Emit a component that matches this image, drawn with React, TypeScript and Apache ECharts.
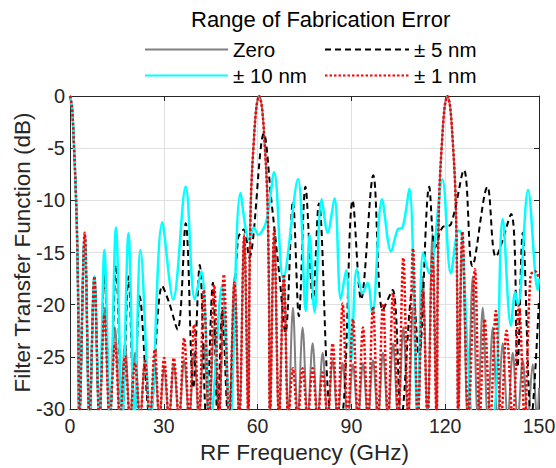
import React, { useEffect, useRef } from "react";
import * as echarts from "echarts";

const FONT = "Liberation Sans, Arial, Helvetica, sans-serif";

const xTicks = [0, 30, 60, 90, 120, 150];
const yTicks = [-30, -25, -20, -15, -10, -5, 0];

const legendTitle = "Range of Fabrication Error";
const seriesNames = ["Zero", "± 5 nm", "± 10 nm", "± 1 nm"];

// [frequency GHz, dB]: lobe peaks, dips and nulls (nulls drop below the -30 dB floor)
const zeroPts: [number, number][] = [
  [0, 0], [0.65, -1.1], [1.3, -5], [1.8, -8.7], [2.2, -12.6], [2.6, -19.3], [3.0, -31],
  [4.7, -13.2], [6.25, -31], [7.8, -17.3], [9.4, -31], [11.0, -20.3], [12.7, -31], [14.4, -22.2], [16.0, -31],
  [17.6, -23.7], [19.2, -31], [20.8, -24.6], [22.4, -31], [24.0, -25.3], [25.55, -31], [27.1, -25.7], [28.6, -31],
  [30.1, -25.9], [31.65, -31], [33.2, -25.7], [34.85, -31], [36.5, -25.3], [38.1, -31], [39.7, -24.6], [41.25, -31],
  [42.8, -23.7], [44.45, -31], [46.1, -22.2], [47.65, -31], [49.2, -20.3], [50.9, -31], [52.6, -17.3], [54.15, -31],
  [55.7, -13.2], [57.05, -31],
  [57.35, -19.3], [57.65, -12.6], [58.0, -8.7], [58.65, -5], [59.6, -1.1], [60.5, 0], [61.4, -1.1], [62.35, -5],
  [63.0, -8.7], [63.35, -12.6], [63.65, -19.3], [63.95, -31],
  [65.3, -13.2], [66.85, -31], [68.4, -17.3], [69.85, -31], [71.3, -20.3], [72.85, -31], [74.4, -22.2], [76.0, -31],
  [77.6, -23.7], [79.2, -31], [80.8, -24.6], [82.4, -31], [84.0, -25.3], [85.6, -31], [87.2, -25.6], [88.85, -31],
  [90.5, -25.7], [92.1, -31], [93.7, -25.6], [95.3, -31], [96.9, -25.3], [98.5, -31], [100.1, -24.6], [101.7, -31],
  [103.3, -23.7], [104.95, -31], [106.6, -22.2], [108.15, -31], [109.7, -20.3], [111.25, -31], [112.8, -17.3], [114.35, -31],
  [115.9, -13.2], [117.25, -31],
  [117.55, -19.3], [117.85, -12.6], [118.2, -8.7], [118.85, -5], [119.8, -1.1], [120.7, 0], [121.6, -1.1], [122.55, -5],
  [123.2, -8.7], [123.55, -12.6], [123.85, -19.3], [124.15, -31],
  [125.5, -13.2], [127.15, -31], [128.8, -17.3], [130.4, -31], [132.0, -20.3], [133.6, -31], [135.2, -22.2], [136.8, -31],
  [138.4, -23.7], [140.0, -31], [141.6, -24.6], [143.2, -31], [144.8, -25.3], [146.4, -31], [148.0, -25.7], [149.4, -31],
  [150, -28],
];

const fivePts: [number, number][] = [
  [0, 0], [0.65, -1.1], [1.3, -5], [1.8, -8.7], [2.2, -12.6], [2.6, -19.3], [3.0, -31],
  [4.7, -13.3], [6.25, -31], [7.8, -17.3], [9.4, -31], [11.0, -17], [12.8, -31], [14.7, -16.2], [16.7, -31],
  [18.7, -17.3], [20.6, -31], [22.3, -19.2], [25.6, -31], [29.5, -18.2], [31.7, -19.8], [34.4, -22.4], [37.0, -12.2],
  [39.4, -28], [41.5, -16.2], [43.6, -31], [45.7, -17.9], [47.2, -31], [48.7, -20.5], [50.6, -31], [53.7, -13.7],
  [55.6, -12.8], [57.3, -15.5], [62.0, -3.6], [64.4, -10], [67.0, -17.3], [68.9, -22.7], [71.3, -10.1], [73.2, -21.1],
  [75.3, -8.7], [77.7, -19.5], [79.6, -10.3], [83.8, -31], [86.6, -31], [90.4, -10], [93.1, -19.5], [97.0, -7.6],
  [100.0, -20.5], [103.2, -18.6], [105.9, -31], [109.6, -18.5], [111.6, -25], [114.9, -8.7], [116.8, -14.5],
  [119.1, -12.6], [121.8, -12.3], [126.0, -7.1], [128.7, -16.3], [133.5, -8.7], [136.2, -15.4],
  [141.1, -11.3], [143.1, -26], [144.8, -13.1], [147.5, -31], [150, -19.5],
];

const tenPts: [number, number][] = [
  [0, 0], [0.65, -1.1], [1.3, -5], [1.8, -8.7], [2.2, -12.6], [2.6, -19.3], [3.0, -31],
  [4.7, -13.3], [6.25, -31], [7.8, -17.3], [9.4, -31], [11.0, -14.75], [12.8, -31], [14.7, -12.6], [16.7, -31],
  [18.7, -13.15], [20.6, -31], [22.55, -14.75], [25.8, -31], [29.5, -12.1], [33.0, -19.5], [37.0, -8.7], [39.9, -19.5],
  [42.0, -16.8], [45.0, -31], [48.6, -18.2], [51.2, -31], [54.5, -9.3], [57.3, -13.8], [58.8, -12.6], [60.2, -13.3],
  [62.8, -12.0], [65.3, -7.3], [68.2, -17.5], [72.9, -7.95], [75.4, -20.6], [76.6, -13.3], [78.2, -20.7], [80.5, -9.9],
  [82.4, -13.1], [84.6, -9.8], [86.6, -19.5], [88.3, -16.7], [89.9, -25.4], [91.7, -16.6], [93.6, -18.9], [95.2, -17.9],
  [96.7, -21], [99.8, -9.9], [102.7, -14.9], [104.8, -12.8], [106.4, -12.6], [108.5, -8.9], [111.2, -31], [112.9, -15],
  [114.9, -17], [119.1, -8], [121.8, -17], [124.3, -12.9], [125.3, -13.2], [127.5, -26], [129.5, -31], [134.8, -31],
  [138.4, -11.8], [141.0, -22], [142.4, -18.8], [143.3, -20], [146.5, -9], [149.6, -18.6], [150, -17.5],
];

const onePts: [number, number][] = [
  [0, 0], [0.65, -1.1], [1.3, -5], [1.8, -8.7], [2.2, -12.6], [2.6, -19.3], [3.0, -31],
  [4.7, -13.1], [6.25, -31], [7.8, -17.3], [9.4, -31], [11.0, -21], [12.7, -31], [14.4, -23.7], [16.0, -31],
  [17.6, -25], [19.2, -31], [20.8, -25.6], [22.4, -31], [24.0, -25.4], [25.55, -31], [27.1, -24.3], [28.6, -31],
  [30.1, -25.1], [31.65, -31], [33.2, -25.1], [34.85, -31], [36.5, -23.2], [38.1, -31], [39.7, -21.9], [41.25, -31],
  [42.8, -18.6], [44.45, -31], [46.1, -18.1], [47.65, -31], [49.2, -17.1], [50.9, -31], [52.6, -17.9], [54.15, -31],
  [55.7, -13.5], [57.05, -31],
  [57.35, -19.3], [57.65, -12.6], [58.0, -8.7], [58.65, -5], [59.6, -1.1], [60.5, 0], [61.4, -1.1], [62.35, -5],
  [63.0, -8.7], [63.35, -12.6], [63.65, -19.3], [63.95, -31],
  [65.3, -12.8], [66.85, -31], [68.4, -17.1], [69.85, -31], [71.3, -26.1], [72.85, -31], [74.4, -26.1], [76.0, -31],
  [77.6, -26.1], [79.2, -31], [80.8, -26.5], [82.4, -31], [84.0, -23.7], [85.6, -31], [87.2, -19.9], [88.85, -31],
  [90.5, -21.4], [92.1, -31], [93.7, -22.2], [95.3, -31], [96.9, -20.2], [98.5, -31], [100.1, -19.9], [101.7, -31],
  [103.3, -18.9], [104.95, -31], [106.6, -15.5], [108.15, -31], [109.7, -14.6], [111.25, -31], [112.8, -18.6], [114.35, -31],
  [115.9, -15.1], [117.25, -31],
  [117.55, -19.3], [117.85, -12.6], [118.2, -8.7], [118.85, -5], [119.8, -1.1], [120.7, 0], [121.6, -1.1], [122.55, -5],
  [123.2, -8.7], [123.55, -12.6], [123.85, -19.3], [124.15, -31],
  [125.5, -13.0], [127.4, -31], [129.5, -16.6], [131.0, -31], [132.6, -21.4], [134.4, -31], [136.2, -20.6], [137.9, -31],
  [139.6, -22.5], [141.6, -31], [143.6, -20.1], [145.4, -31], [147.3, -17.2], [148.8, -16.8], [150, -17.5],
];

const seriesData = [zeroPts, fivePts, tenPts, onePts];
const seriesColors = ["#808080", "#000000", "#00ffff", "#ff0000"];
const seriesWidths = [2, 2, 2.5, 2.5];
const seriesDash: any[] = ["solid", [6, 4], "solid", [2.5, 2]];

export default function App() {
  const ref = useRef<HTMLDivElement>(null);
  useEffect(() => {
    const chart = echarts.init(ref.current!, null, { renderer: "svg" });
    const axisColor = "#262626";
    const baseAxis = (pos: string, show: boolean, margin: number, size: number) => ({
      axisLine: { show: true, onZero: false, lineStyle: { color: axisColor, width: 1 } },
      axisTick: { show: true, inside: true, length: 5, lineStyle: { color: axisColor } },
      axisLabel: { show, fontSize: size, color: axisColor, fontFamily: FONT, margin },
      position: pos,
    });
    const legendCommon = {
      orient: "vertical",
      top: 34,
      itemHeight: 20,
      itemGap: 5,
      itemStyle: { opacity: 0 },
      textStyle: { fontSize: 20.5, color: "#000", fontFamily: FONT, lineHeight: 20 },
    };
    chart.setOption({
      animation: false,
      textStyle: { fontFamily: FONT },
      title: {
        text: legendTitle,
        left: 186,
        top: 3,
        textStyle: { fontSize: 22, fontWeight: "normal", color: "#000", fontFamily: FONT },
      },
      legend: [
        { ...legendCommon, data: [seriesNames[0], seriesNames[2]], left: 139, itemWidth: 83 },
        { ...legendCommon, data: [seriesNames[1], seriesNames[3]], left: 319, itemWidth: 84 },
      ],
      grid: { left: 70, right: 17, top: 96, bottom: 59, outerBoundsMode: "none", containLabel: false },
      xAxis: [
        {
          type: "value",
          min: xTicks[0],
          max: xTicks[xTicks.length - 1],
          interval: 30,
          ...baseAxis("bottom", true, 7, 19.5),
          splitLine: { show: true, lineStyle: { color: "#e0e0e0", width: 1 } },
          name: "RF Frequency (GHz)",
          nameLocation: "middle",
          nameGap: 32,
          nameTextStyle: { fontSize: 22.5, color: axisColor, fontFamily: FONT },
        },
        {
          type: "value",
          min: xTicks[0],
          max: xTicks[xTicks.length - 1],
          interval: 30,
          ...baseAxis("top", false, 8, 19.5),
          splitLine: { show: false },
        },
      ],
      yAxis: [
        {
          type: "value",
          min: yTicks[0],
          max: yTicks[yTicks.length - 1],
          interval: 5,
          ...baseAxis("left", true, 5, 20),
          splitLine: { show: true, lineStyle: { color: "#e0e0e0", width: 1 } },
          name: "Filter Transfer Function (dB)",
          nameLocation: "middle",
          nameGap: 36,
          nameMoveOverlap: false,
          nameTextStyle: { fontSize: 22.5, color: axisColor, fontFamily: FONT },
        },
        {
          type: "value",
          min: yTicks[0],
          max: yTicks[yTicks.length - 1],
          interval: 5,
          ...baseAxis("right", false, 8, 20),
          splitLine: { show: false },
        },
      ],
      series: seriesData.map((d, i) => ({
        name: seriesNames[i],
        type: "line",
        data: d,
        xAxisIndex: 0,
        yAxisIndex: 0,
        showSymbol: false,
        symbol: "none",
        smooth: 0.35,
        clip: true,
        lineStyle: { color: seriesColors[i], width: seriesWidths[i], type: seriesDash[i] },
        itemStyle: { color: seriesColors[i] },
        z: 2 + i,
      })),
    });
    return () => chart.dispose();
  }, []);
  return (
    <div
      ref={ref}
      style={{ position: "fixed", left: 0, top: 0, width: 556, height: 468, background: "#fff" }}
    />
  );
}
